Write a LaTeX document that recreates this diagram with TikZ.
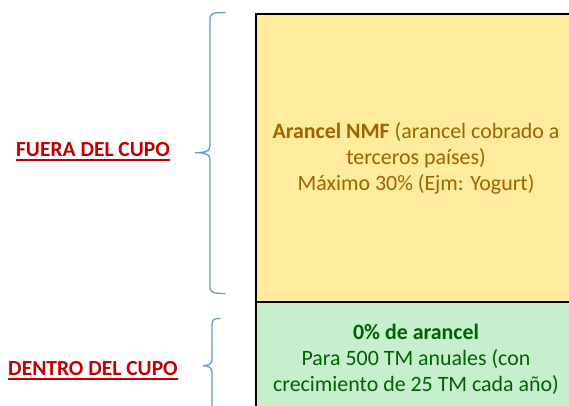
\documentclass[tikz,border=0pt]{standalone}
\usepackage{fontspec}
\setmainfont{Carlito}
\definecolor{nyel}{RGB}{255,235,156}
\definecolor{nyeltxt}{RGB}{156,101,0}
\definecolor{ngrn}{RGB}{198,239,206}
\definecolor{ngrntxt}{RGB}{0,97,0}
\definecolor{bracec}{RGB}{91,155,213}
\definecolor{redlbl}{RGB}{192,0,0}
\tikzset{
  tbox/.style={draw=black, line width=2pt, minimum width=320pt, align=center, inner sep=0pt,
    font=\fontsize{21.9}{26}\selectfont},
  lbl/.style={text=redlbl, inner sep=0pt, font=\fontsize{21.5}{24}\selectfont\bfseries},
  brc/.style={draw=bracec, line width=1.3pt}
}
\begin{document}
\begin{tikzpicture}[x=1pt,y=-1pt]
\useasboundingbox (0,0) rectangle (569,406);
\clip (0,0) rectangle (569,406);
\node[tbox, fill=nyel, text=nyeltxt, minimum height=288pt] (fuera) at (416,158)
  {\textbf{Arancel NMF} (arancel cobrado a\\terceros países)\\Máximo 30\% (Ejm: Yogurt)};
\node[tbox, fill=ngrn, text=ngrntxt, minimum height=114pt] (dentro) at (416,359)
  {\textbf{0\% de arancel}\\Para 500 TM anuales (con\\crecimiento de 25 TM cada año)};
% labels
\node[lbl] (lf) at (93,149.5) {FUERA DEL CUPO};
\node[lbl] (ld) at (93,369) {DENTRO DEL CUPO};
\draw[redlbl, line width=2pt] ([yshift=-3.5pt]lf.base west) -- ([yshift=-3.5pt]lf.base east);
\draw[redlbl, line width=2pt] ([yshift=-3.5pt]ld.base west) -- ([yshift=-3.5pt]ld.base east);
% braces
\coordinate (b1t) at (225.5,12.5);
\coordinate (b1m) at (195,152.7);
\coordinate (b1b) at (225.5,293.5);
\draw[brc] (b1t) .. controls (213,12.5) and (210,13) .. (210,20) -- (210,146)
  .. controls (210,151) and (206,152.7) .. (b1m)
  .. controls (206,152.7) and (210,154.5) .. (210,159) -- (210,286)
  .. controls (210,293) and (213,293.5) .. (b1b);
\coordinate (b2t) at (220.5,318.5);
\coordinate (b2m) at (203,365.7);
\coordinate (b2e) at (212,420);
\draw[brc] (b2t) .. controls (214,318.5) and (212,319) .. (212,325) -- (212,360)
  .. controls (212,364) and (208,365.7) .. (b2m)
  .. controls (208,365.7) and (212,367.5) .. (212,372) -- (b2e);
\end{tikzpicture}
\end{document}
